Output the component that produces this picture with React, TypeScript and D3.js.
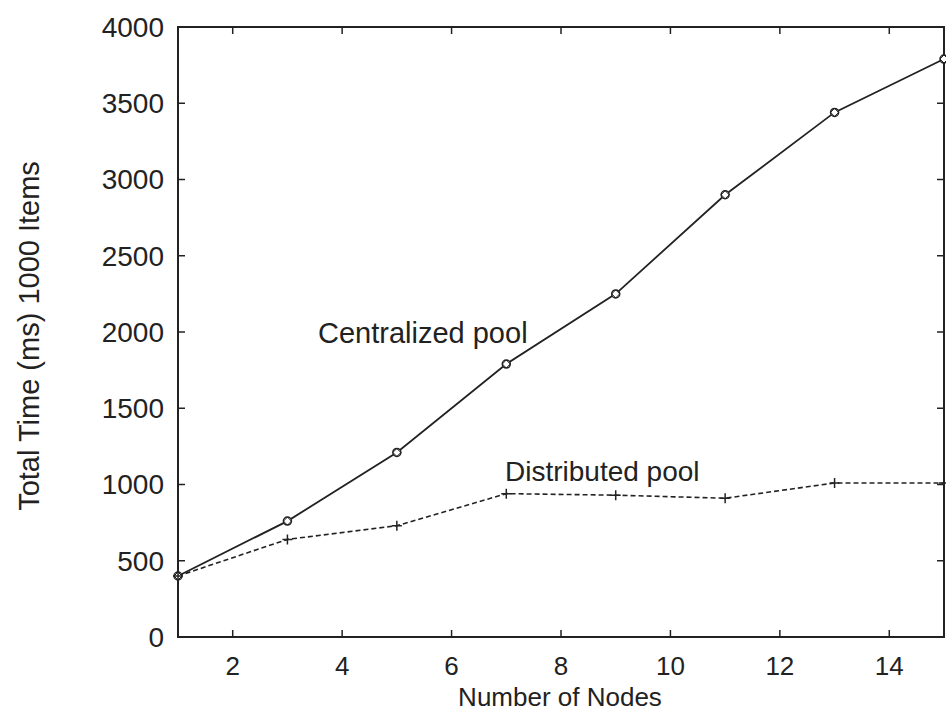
import React, { useRef, useEffect } from "react";
import * as d3 from "d3";

const nodes = [1, 3, 5, 7, 9, 11, 13, 15];
const centralized = [400, 760, 1210, 1790, 2250, 2900, 3440, 3790];
const distributed = [400, 640, 730, 940, 930, 910, 1010, 1010];
const xTicks = [2, 4, 6, 8, 10, 12, 14];
const yTicks = [0, 500, 1000, 1500, 2000, 2500, 3000, 3500, 4000];

const App = () => {
  const ref = useRef<SVGSVGElement>(null);
  const width = 946;
  const height = 713;
  const margin = { top: 27, right: 2, bottom: 76, left: 178 };
  const font = "'Liberation Sans', Arial, Helvetica, sans-serif";

  useEffect(() => {
    const svg = d3.select(ref.current);
    svg.selectAll("*").remove();

    const x = d3
      .scaleLinear()
      .domain([1, 15])
      .range([margin.left, width - margin.right]);
    const y = d3
      .scaleLinear()
      .domain([0, 4000])
      .range([height - margin.bottom, margin.top]);

    const ink = "#222";

    // frame
    svg
      .append("rect")
      .attr("x", x(1))
      .attr("y", y(4000))
      .attr("width", x(15) - x(1))
      .attr("height", y(0) - y(4000))
      .attr("fill", "none")
      .attr("stroke", ink)
      .attr("stroke-width", 2);

    // inward ticks
    const tl = 7;
    svg
      .append("g")
      .selectAll("line")
      .data(xTicks)
      .join("line")
      .attr("x1", (d) => x(d))
      .attr("x2", (d) => x(d))
      .attr("y1", y(0))
      .attr("y2", y(0) - tl)
      .attr("stroke", ink)
      .attr("stroke-width", 1.5);
    svg
      .append("g")
      .selectAll("line")
      .data(xTicks)
      .join("line")
      .attr("x1", (d) => x(d))
      .attr("x2", (d) => x(d))
      .attr("y1", y(4000))
      .attr("y2", y(4000) + tl)
      .attr("stroke", ink)
      .attr("stroke-width", 1.5);
    svg
      .append("g")
      .selectAll("line")
      .data(yTicks)
      .join("line")
      .attr("x1", x(1))
      .attr("x2", x(1) + tl)
      .attr("y1", (d) => y(d))
      .attr("y2", (d) => y(d))
      .attr("stroke", ink)
      .attr("stroke-width", 1.5);
    svg
      .append("g")
      .selectAll("line")
      .data(yTicks)
      .join("line")
      .attr("x1", x(15))
      .attr("x2", x(15) - tl)
      .attr("y1", (d) => y(d))
      .attr("y2", (d) => y(d))
      .attr("stroke", ink)
      .attr("stroke-width", 1.5);

    // tick labels
    svg
      .append("g")
      .selectAll("text")
      .data(yTicks)
      .join("text")
      .attr("x", x(1) - 14)
      .attr("y", (d) => y(d))
      .attr("dy", "0.35em")
      .attr("text-anchor", "end")
      .attr("font-family", font)
      .attr("font-size", 28)
      .attr("fill", ink)
      .text((d) => d);
    svg
      .append("g")
      .selectAll("text")
      .data(xTicks)
      .join("text")
      .attr("x", (d) => x(d))
      .attr("y", y(0) + 38)
      .attr("text-anchor", "middle")
      .attr("font-family", font)
      .attr("font-size", 26)
      .attr("fill", ink)
      .text((d) => d);

    // axis titles
    svg
      .append("text")
      .attr("x", 560)
      .attr("y", 706)
      .attr("text-anchor", "middle")
      .attr("font-family", font)
      .attr("font-size", 26)
      .attr("fill", ink)
      .text("Number of Nodes");
    svg
      .append("text")
      .attr("transform", "translate(39,336) rotate(-90)")
      .attr("text-anchor", "middle")
      .attr("font-family", font)
      .attr("font-size", 29)
      .attr("fill", ink)
      .text("Total Time (ms) 1000 Items");

    const line = d3
      .line<number>()
      .x((d, i) => x(nodes[i]))
      .y((d) => y(d));

    svg
      .append("path")
      .datum(centralized)
      .attr("d", line)
      .attr("fill", "none")
      .attr("stroke", ink)
      .attr("stroke-width", 1.8);
    svg
      .append("path")
      .datum(distributed)
      .attr("d", line)
      .attr("fill", "none")
      .attr("stroke", ink)
      .attr("stroke-width", 1.6)
      .attr("stroke-dasharray", "5,3");

    // markers: centralized (diamond in circle)
    const cm = svg
      .append("g")
      .selectAll("g")
      .data(centralized)
      .join("g")
      .attr("transform", (d, i) => `translate(${x(nodes[i])},${y(d)})`);
    cm.append("circle")
      .attr("r", 4)
      .attr("fill", "white")
      .attr("stroke", ink)
      .attr("stroke-width", 1.5);
    cm.append("path")
      .attr("d", "M0,-4L4,0L0,4L-4,0Z")
      .attr("fill", "none")
      .attr("stroke", ink)
      .attr("stroke-width", 1);

    // markers: distributed (plus)
    svg
      .append("g")
      .selectAll("path")
      .data(distributed)
      .join("path")
      .attr("d", (d, i) => {
        const cx = x(nodes[i]);
        const cy = y(d);
        return `M${cx - 5},${cy}H${cx + 5}M${cx},${cy - 5}V${cy + 5}`;
      })
      .attr("stroke", ink)
      .attr("stroke-width", 1.5);

    // labels
    svg
      .append("text")
      .attr("x", 318)
      .attr("y", 343)
      .attr("font-family", font)
      .attr("font-size", 29)
      .attr("fill", ink)
      .text("Centralized pool");
    svg
      .append("text")
      .attr("x", 505)
      .attr("y", 481)
      .attr("font-family", font)
      .attr("font-size", 28)
      .attr("fill", ink)
      .text("Distributed pool");
  });

  return (
    <svg
      ref={ref}
      width={width}
      height={height}
      style={{ position: "absolute", left: 0, top: 0, background: "white" }}
    ></svg>
  );
};

export default App;
